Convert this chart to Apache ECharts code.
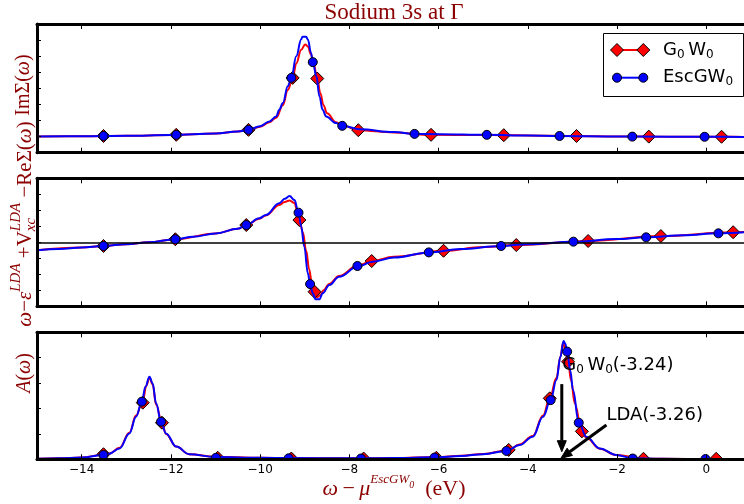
<!DOCTYPE html>
<html>
<head>
<meta charset="utf-8">
<script src="https://cdn.jsdelivr.net/npm/echarts@6/dist/echarts.min.js"></script>
<style>
  html, body { margin: 0; padding: 0; background: #fff; overflow: hidden; }
  #chart { width: 744px; height: 504px; }
</style>
</head>
<body>
<div id="chart"></div>
<script>
// ---- data -----------------------------------------------------------------
const xTicks = [-14, -12, -10, -8, -6, -4, -2, 0];

// Im Sigma(omega)
const imSigmaG0W0 = [[-15,1.00],[-14,1.02],[-13,1.05],[-12,1.10],[-11,1.20],[-10.5,1.32],[-10.26,1.42],[-10.0,1.62],[-9.79,1.90],[-9.64,2.18],[-9.49,2.95],[-9.38,3.90],[-9.27,4.65],[-9.19,5.55],[-9.08,6.40],[-8.99,6.73],[-8.93,6.60],[-8.86,6.10],[-8.80,5.50],[-8.72,4.61],[-8.65,3.70],[-8.58,2.95],[-8.50,2.45],[-8.30,1.90],[-8.15,1.70],[-7.80,1.40],[-7.0,1.26],[-6.17,1.11],[-5.0,1.10],[-4.54,1.09],[-4.0,1.07],[-2.91,1.04],[-2.0,1.01],[-1.29,1.00],[0.34,0.99],[1,0.98]];
const imSigmaEsc = [[-15,1.00],[-14,1.02],[-13,1.05],[-12,1.10],[-11,1.20],[-10.5,1.32],[-10.26,1.42],[-10.0,1.65],[-9.79,1.94],[-9.64,2.25],[-9.57,2.67],[-9.49,3.09],[-9.38,4.13],[-9.30,4.65],[-9.19,6.00],[-9.08,7.04],[-9.05,7.21],[-8.97,7.21],[-8.93,7.04],[-8.86,6.21],[-8.82,5.63],[-8.74,4.75],[-8.67,3.50],[-8.60,2.67],[-8.52,2.25],[-8.30,1.84],[-8.15,1.67],[-7.77,1.46],[-7.0,1.28],[-6.54,1.17],[-6.0,1.15],[-4.92,1.11],[-4.0,1.07],[-3.29,1.04],[-2.0,1.01],[-1.66,1.00],[0,0.99],[1,0.98]];
const imSigmaG0W0Marks = [[-13.51,1.04],[-11.88,1.11],[-10.26,1.42],[-9.27,4.65],[-8.72,4.61],[-7.80,1.40],[-6.17,1.11],[-4.54,1.09],[-2.91,1.04],[-1.29,1.00],[0.34,0.99]];
const imSigmaEscMarks = [[-13.51,1.04],[-11.88,1.11],[-10.26,1.42],[-9.30,4.65],[-8.82,5.63],[-8.16,1.67],[-6.54,1.17],[-4.92,1.11],[-3.29,1.04],[-1.66,1.00],[-0.04,0.99]];

// omega - eps_LDA + Vxc_LDA - Re Sigma(omega)
const reSigmaG0W0 = [[-15,-0.50],[-14,-0.33],[-13.51,-0.23],[-13,-0.12],[-12.5,0.0],[-11.9,0.19],[-11,0.55],[-10.5,0.84],[-10.31,1.08],[-10.02,1.47],[-9.87,1.68],[-9.57,2.33],[-9.45,2.52],[-9.34,2.62],[-9.23,2.45],[-9.17,2.00],[-9.12,1.39],[-9.04,0.60],[-8.97,-0.50],[-8.90,-1.70],[-8.84,-2.60],[-8.78,-3.09],[-8.73,-3.44],[-8.65,-3.30],[-8.58,-3.00],[-8.45,-2.60],[-8.23,-2.10],[-7.81,-1.45],[-7.50,-1.17],[-7,-0.90],[-5.89,-0.53],[-5,-0.30],[-4.26,-0.17],[-2.65,0.08],[-1.02,0.39],[0.6,0.63],[1,0.67]];
const reSigmaEsc = [[-15,-0.50],[-14.5,-0.42],[-14,-0.33],[-13.51,-0.23],[-13,-0.12],[-12.5,0.0],[-11.9,0.19],[-11.5,0.35],[-11,0.55],[-10.5,0.85],[-10.31,1.08],[-10.02,1.50],[-9.87,1.71],[-9.57,2.44],[-9.45,2.72],[-9.34,2.89],[-9.23,2.64],[-9.14,1.85],[-9.08,0.98],[-9.01,-0.28],[-8.93,-1.94],[-8.88,-2.61],[-8.82,-3.19],[-8.76,-3.56],[-8.67,-3.56],[-8.60,-3.19],[-8.45,-2.67],[-8.23,-2.15],[-7.81,-1.52],[-7.48,-1.21],[-7,-0.95],[-6.22,-0.63],[-5.5,-0.42],[-4.60,-0.23],[-4,-0.12],[-2.98,0.04],[-2,0.20],[-1.35,0.31],[-0.5,0.44],[0.27,0.56],[1,0.66]];
const reSigmaG0W0Marks = [[-13.51,-0.23],[-11.90,0.19],[-10.31,1.08],[-9.12,1.39],[-8.78,-3.09],[-7.50,-1.17],[-5.89,-0.53],[-4.26,-0.17],[-2.65,0.08],[-1.02,0.39],[0.60,0.63]];
const reSigmaEscMarks = [[-13.51,-0.23],[-11.90,0.19],[-10.31,1.08],[-9.14,1.85],[-8.88,-2.61],[-7.82,-1.48],[-6.22,-0.63],[-4.60,-0.23],[-2.98,0.04],[-1.35,0.31],[0.27,0.56]];

// A(omega)
const specG0W0 = [[-15,0.02],[-14.5,0.04],[-14,0.07],[-13.51,0.18],[-13.38,0.23],[-13.15,0.45],[-12.93,1.05],[-12.78,1.72],[-12.63,2.30],[-12.55,2.90],[-12.48,3.22],[-12.41,2.95],[-12.33,2.15],[-12.20,1.42],[-12.11,1.00],[-11.88,0.50],[-11.59,0.20],[-11,0.10],[-10,0.06],[-9.3,0.05],[-8,0.04],[-7,0.05],[-6.05,0.09],[-5.5,0.14],[-5,0.21],[-4.43,0.36],[-4.19,0.58],[-3.89,0.92],[-3.66,1.72],[-3.51,2.40],[-3.36,3.20],[-3.27,4.05],[-3.21,4.60],[-3.16,4.30],[-3.10,3.84],[-3.03,3.10],[-2.95,2.20],[-2.79,1.10],[-2.69,0.85],[-2.39,0.42],[-2.02,0.17],[-1.41,0.03],[-1,0.02],[0.22,0.01],[1,0.0]];
const specEsc = [[-15,0.02],[-14.5,0.04],[-14,0.07],[-13.51,0.17],[-13.38,0.22],[-13.15,0.43],[-12.93,1.02],[-12.78,1.68],[-12.65,2.27],[-12.57,2.86],[-12.48,3.25],[-12.41,2.99],[-12.33,2.20],[-12.22,1.48],[-12.11,1.02],[-11.88,0.50],[-11.59,0.20],[-11.0,0.09],[-10,0.06],[-9.36,0.05],[-8,0.04],[-7.74,0.04],[-7,0.05],[-6.09,0.08],[-5.5,0.13],[-5,0.20],[-4.48,0.33],[-4.19,0.56],[-3.89,0.89],[-3.66,1.68],[-3.49,2.33],[-3.36,3.12],[-3.27,4.04],[-3.20,4.66],[-3.16,4.55],[-3.12,4.24],[-3.05,3.50],[-2.99,2.73],[-2.86,1.46],[-2.69,0.89],[-2.39,0.43],[-2.02,0.17],[-1.65,0.04],[-1,0.02],[-0.02,0.01],[1,0.0]];
const specG0W0Marks = [[-13.51,0.20],[-12.63,2.23],[-12.20,1.44],[-10.95,0.06],[-9.30,0.03],[-7.68,0.03],[-6.05,0.06],[-4.43,0.37],[-3.51,2.40],[-3.10,3.84],[-2.79,1.10],[-1.41,0.02],[0.22,0.02]];
const specEscMarks = [[-13.51,0.17],[-12.65,2.27],[-12.22,1.48],[-10.99,0.06],[-9.36,0.04],[-7.74,0.03],[-6.09,0.07],[-4.48,0.33],[-3.49,2.33],[-3.12,4.24],[-2.86,1.44],[-1.65,0.03],[-0.02,0.01]];

// quasiparticle energies marked in the spectral panel (eV)
const qpG0W0 = -3.24;
const qpLDA = -3.26;

// ---- styling --------------------------------------------------------------
const SERIF = '"Liberation Serif", "DejaVu Serif", serif';
const SANS = '"DejaVu Sans", sans-serif';
const DARKRED = '#8b0000';
const RED = '#ff0000';
const BLUE = '#0000ff';

const panels = [
  { top: 24,    height: 128.7, min: 0,  max: 8 },
  { top: 178.3, height: 128,   min: -4, max: 4 },
  { top: 332.3, height: 127,   min: 0,  max: 5 }
];

const fmtTick = v => (v < 0 ? '\u2212' + Math.abs(v) : String(v));

const grids = panels.map(p => ({
  left: 37, right: -7, top: p.top, height: p.height,
  containLabel: false, outerBoundsMode: 'none', show: false
}));

const xAxes = [];
['bottom', 'top'].forEach(pos => {
  panels.forEach((p, i) => {
    xAxes.push({
      type: 'value', gridIndex: i, position: pos, min: -15, max: 1, z: 10,
      axisLine: { show: true, onZero: false, lineStyle: { color: '#000', width: 3 } },
      axisTick: { show: true, inside: true, length: 5, customValues: xTicks,
                  lineStyle: { color: '#000', width: 1 } },
      axisLabel: { show: pos === 'bottom' && i === 2, customValues: xTicks,
                   formatter: fmtTick, color: '#000', fontSize: 12,
                   fontFamily: SANS, margin: 5 },
      splitLine: { show: false }
    });
  });
});

const yAxes = panels.map((p, i) => ({
  type: 'value', gridIndex: i, min: p.min, max: p.max, interval: 1, z: 10,
  axisLine: { show: true, onZero: false, lineStyle: { color: '#000', width: 3 } },
  axisTick: { show: true, inside: true, length: 4, lineStyle: { color: '#000', width: 1 } },
  axisLabel: { show: false },
  splitLine: { show: false }
}));

function curve(data, color, i, z, extra) {
  return Object.assign({
    type: 'line', xAxisIndex: i, yAxisIndex: i, data,
    showSymbol: false, symbol: 'none', smooth: 0.4, smoothMonotone: 'x',
    lineStyle: { color, width: 2 }, z, silent: true
  }, extra || {});
}
function marks(data, shape, color, size, i, z) {
  return {
    type: 'scatter', xAxisIndex: i, yAxisIndex: i, data,
    symbol: shape, symbolSize: size, z, silent: true,
    itemStyle: { color, borderColor: '#000', borderWidth: 1, opacity: 1 }
  };
}

const zeroLine = {
  markLine: {
    silent: true, symbol: ['none', 'none'], label: { show: false },
    lineStyle: { color: '#000', width: 1.5, type: 'solid' },
    data: [{ yAxis: 0 }]
  }
};

const series = [
  curve(imSigmaG0W0, RED, 0, 2),
  marks(imSigmaG0W0Marks, 'diamond', RED, 13, 0, 3),
  curve(imSigmaEsc, BLUE, 0, 4),
  marks(imSigmaEscMarks, 'circle', BLUE, 9, 0, 5),

  curve(reSigmaG0W0, RED, 1, 2, zeroLine),
  marks(reSigmaG0W0Marks, 'diamond', RED, 13, 1, 3),
  curve(reSigmaEsc, BLUE, 1, 4),
  marks(reSigmaEscMarks, 'circle', BLUE, 9, 1, 5),

  curve(specG0W0, RED, 2, 2),
  marks(specG0W0Marks, 'diamond', RED, 13, 2, 3),
  curve(specEsc, BLUE, 2, 4),
  marks(specEscMarks, 'circle', BLUE, 9, 2, 5)
];

const chart = echarts.init(document.getElementById('chart'), null, { renderer: 'canvas' });
chart.setOption({
  animation: false,
  backgroundColor: '#fff',
  grid: grids,
  xAxis: xAxes,
  yAxis: yAxes,
  series
});

// ---- text with sub/superscripts, built from measured pieces ---------------
const measureCtx = document.createElement('canvas').getContext('2d');
function fontOf(size, italic, fam) {
  return (italic ? 'italic ' : '') + size + 'px ' + fam;
}
// piece: [text, size, italic, dy, stack]; 'stack' pieces share their advance
// with the following piece (super- over subscript).
function mathText(pieces, o) {
  const fam = o.family || SERIF;
  const z = o.z || 20;
  const kids = [];
  let cursor = 0, stackW = null;
  pieces.forEach(p => {
    const [t, size, italic = false, dy = 0, stack = false] = p;
    const font = fontOf(size, italic, fam);
    measureCtx.font = font;
    const w = measureCtx.measureText(t).width;
    kids.push({
      type: 'text', x: cursor, y: dy, z,
      style: { text: t, font, fill: o.color, textAlign: 'left', align: 'left',
               textVerticalAlign: 'middle', verticalAlign: 'middle' }
    });
    if (stack) { stackW = w; return; }
    cursor += stackW !== null ? Math.max(w, stackW) : w;
    stackW = null;
  });
  const shift = o.anchor === 'left' ? 0 : -cursor / 2;
  kids.forEach(k => { k.x += shift; });
  return { type: 'group', x: o.x, y: o.y, rotation: o.rotation || 0, z, children: kids };
}

const toPx = (pt) => chart.convertToPixel({ xAxisIndex: 2, yAxisIndex: 2 }, pt);

function arrow(from, to) {
  const a = toPx(from), b = toPx(to);
  const dx = b[0] - a[0], dy = b[1] - a[1];
  const len = Math.hypot(dx, dy);
  const ux = dx / len, uy = dy / len;
  const head = 11, half = 4.5;
  const bx = b[0] - ux * head, by = b[1] - uy * head;
  return [
    { type: 'line', z: 15, shape: { x1: a[0], y1: a[1], x2: bx, y2: by },
      style: { stroke: '#000', lineWidth: 3 } },
    { type: 'polygon', z: 15,
      shape: { points: [[b[0], b[1]], [bx - uy * half, by + ux * half], [bx + uy * half, by - ux * half]] },
      style: { fill: '#000', stroke: '#000', lineWidth: 1 } }
  ];
}

function diamond(cx, cy, r) {
  return { type: 'polygon', z: 22,
    shape: { points: [[cx, cy - r], [cx + r, cy], [cx, cy + r], [cx - r, cy]] },
    style: { fill: RED, stroke: '#000', lineWidth: 1 } };
}
function dot(cx, cy, r) {
  return { type: 'circle', z: 22, shape: { cx, cy, r },
    style: { fill: BLUE, stroke: '#000', lineWidth: 1 } };
}

const g0w0Pieces = [['G', 18], ['0', 12, false, 4.5], ['\u2009W', 18], ['0', 12, false, 4.5]];
const escPieces = [['EscGW', 18], ['0', 12, false, 4.5]];

const pG = toPx([-3.23, 3.71]);
const pL = toPx([-2.24, 1.74]);

const elements = [
  // markers hanging below the bottom panel are cut at the frame
  { type: 'rect', z: 8, shape: { x: 37, y: 461, width: 720, height: 7 }, style: { fill: '#fff' } },

  // title
  mathText([['Sodium 3s at \u0393', 23]], { x: 394, y: 13, color: DARKRED }),

  // axis titles
  mathText([['\u03c9', 22, true], ['\u2009\u2212\u2009', 22], ['\u03bc', 22, true],
            ['EscGW', 13, true, -9], ['0', 10, true, -4], ['  (eV)', 22]],
           { x: 394, y: 489, color: DARKRED }),
  mathText([['Im', 20], ['\u03a3', 20], ['(', 20], ['\u03c9', 20, true], [')', 20]],
           { x: 24, y: 85, rotation: Math.PI / 2, color: DARKRED }),
  mathText([['\u03c9', 21, true], ['\u2212', 21], ['\u03b5', 21, true], ['LDA', 15, true, -9],
            [' +', 21], ['V', 21], ['LDA', 15, true, -9, true], ['xc', 15, true, 6],
            [' \u2212', 21], ['Re', 21], ['\u03a3', 21], ['(', 21], ['\u03c9', 21, true], [')', 21]],
           { x: 25, y: 224, rotation: Math.PI / 2, color: DARKRED }),
  mathText([['A', 20, true], ['(', 20], ['\u03c9', 20, true], [')', 20]],
           { x: 25, y: 373, rotation: Math.PI / 2, color: DARKRED }),

  // legend
  { type: 'rect', z: 21, shape: { x: 603.5, y: 33.5, width: 140, height: 63 },
    style: { fill: '#fff', stroke: '#000', lineWidth: 1 } },
  { type: 'line', z: 22, shape: { x1: 617, y1: 50, x2: 643.3, y2: 50 }, style: { stroke: RED, lineWidth: 2 } },
  diamond(617, 50, 6.5), diamond(643.3, 50, 6.5),
  { type: 'line', z: 22, shape: { x1: 617, y1: 77.7, x2: 643.3, y2: 77.7 }, style: { stroke: BLUE, lineWidth: 2 } },
  dot(617, 77.7, 4.5), dot(643.3, 77.7, 4.5),
  mathText(g0w0Pieces, { x: 663, y: 50, anchor: 'left', color: '#000', family: SANS, z: 24 }),
  mathText(escPieces, { x: 663, y: 77.5, anchor: 'left', color: '#000', family: SANS, z: 24 }),

  // quasiparticle annotations
  ...arrow([qpG0W0, 2.96], [qpG0W0, 0.30]),
  ...arrow([-2.24, 1.35], [qpLDA, 0.04]),
  mathText(g0w0Pieces.concat([['(' + qpG0W0.toFixed(2) + ')', 18]]),
           { x: pG[0], y: pG[1], anchor: 'left', color: '#000', family: SANS }),
  mathText([['LDA(' + qpLDA.toFixed(2) + ')', 18]],
           { x: pL[0], y: pL[1], anchor: 'left', color: '#000', family: SANS })
];

chart.setOption({ graphic: { elements } });
</script>
</body>
</html>
